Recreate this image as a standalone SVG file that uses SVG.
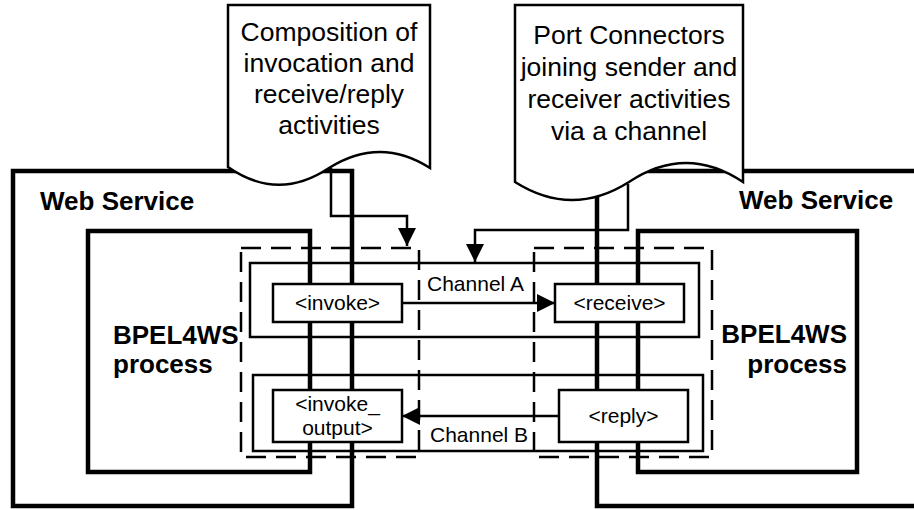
<svg xmlns="http://www.w3.org/2000/svg" width="914" height="510" viewBox="0 0 914 510">
<defs>
<style>
.thick{fill:none;stroke:#000;stroke-width:4.5;stroke-linejoin:miter}
.thin{fill:none;stroke:#000;stroke-width:2.5}
.dash{fill:none;stroke:#000;stroke-width:2.5;stroke-dasharray:20 10}
.act{fill:#fff;stroke:#000;stroke-width:2.5}
.callout{fill:#fff;stroke:#000;stroke-width:2.5}
.conn{fill:none;stroke:#000;stroke-width:2.5}
text{font-family:"Liberation Sans",Arial,sans-serif;fill:#000}
.bold{font-weight:bold;font-size:26px}
.note{font-size:26.5px;text-anchor:middle}
.lbl{font-size:21px}
.mid{text-anchor:middle}
</style>
<marker id="arrow" viewBox="0 0 18 18" markerWidth="18" markerHeight="18" refX="18" refY="9" markerUnits="userSpaceOnUse" orient="auto">
<path d="M0,0 L18,9 L0,18 Z" fill="#000"/>
</marker>
</defs>
<rect width="914" height="510" fill="#fff"/>

<g id="web-service-left">
<rect class="thick" x="13" y="171" width="339" height="335"/>
<text class="bold" x="40" y="210">Web Service</text>
</g>
<g id="web-service-right">
<rect class="thick" x="597" y="171" width="340" height="335"/>
<text class="bold" x="739" y="209">Web Service</text>
</g>
<g id="bpel-left">
<rect class="thick" x="88" y="231" width="222" height="241"/>
<text class="bold" x="113" y="344">BPEL4WS</text>
<text class="bold" x="113" y="373">process</text>
</g>
<g id="bpel-right">
<rect class="thick" x="638" y="231" width="219" height="241"/>
<text class="bold" x="847" y="343" text-anchor="end">BPEL4WS</text>
<text class="bold" x="847" y="373" text-anchor="end">process</text>
</g>

<g id="composition-upper">
<rect class="thin" x="250" y="263" width="449" height="74"/>
</g>
<g id="composition-lower">
<rect class="thin" x="253" y="375" width="450" height="76"/>
</g>
<g id="port-connector-left">
<rect class="dash" x="241" y="248" width="178" height="209"/>
</g>
<g id="port-connector-right">
<rect class="dash" x="534" y="248" width="178" height="209"/>
</g>

<g id="invoke">
<rect class="act" x="273" y="284" width="129" height="38"/>
<text class="lbl mid" x="337.5" y="310">&lt;invoke&gt;</text>
</g>
<g id="invoke-output">
<rect class="act" x="273" y="390" width="129" height="52"/>
<text class="lbl mid" x="337.5" y="411">&lt;invoke_</text>
<text class="lbl mid" x="337.5" y="435">output&gt;</text>
</g>
<g id="receive">
<rect class="act" x="555" y="284" width="129" height="38"/>
<text class="lbl mid" x="619.5" y="310">&lt;receive&gt;</text>
</g>
<g id="reply">
<rect class="act" x="559" y="390" width="129" height="52"/>
<text class="lbl mid" x="623.5" y="423">&lt;reply&gt;</text>
</g>

<g id="connectors">
<line class="conn" x1="402" y1="303" x2="555" y2="303" marker-end="url(#arrow)"/>
<text class="lbl" x="427" y="291">Channel A</text>
<line class="conn" x1="559" y1="416" x2="402" y2="416" marker-end="url(#arrow)"/>
<text class="lbl" x="430" y="442">Channel B</text>
<path class="conn" d="M331,168 V216 H407 V246" marker-end="url(#arrow)"/>
<path class="conn" d="M628,184 V230 H475 V262" marker-end="url(#arrow)"/>
</g>

<g id="callout-composition">
<path class="callout" d="M228,167 V5 H430 V168 Q380,136 329,168 Q278,202 228,167 Z"/>
<text class="note" x="329" y="41">Composition of</text>
<text class="note" x="329" y="72">invocation and</text>
<text class="note" x="329" y="103">receive/reply</text>
<text class="note" x="329" y="134">activities</text>
</g>
<g id="callout-port">
<path class="callout" d="M515,182 V5 H743 V182 Q686,144 629,182 Q572,218 515,182 Z"/>
<text class="note" x="629" y="44">Port Connectors</text>
<text class="note" x="629" y="76">joining sender and</text>
<text class="note" x="629" y="108">receiver activities</text>
<text class="note" x="629" y="140">via a channel</text>
</g>
</svg>
